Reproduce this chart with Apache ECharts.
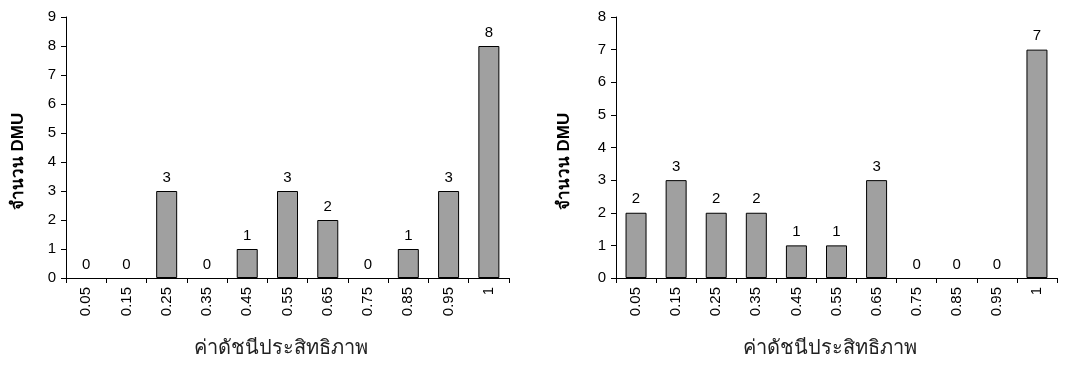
<!DOCTYPE html>
<html>
<head>
<meta charset="utf-8">
<script src="https://cdn.jsdelivr.net/npm/echarts@6/dist/echarts.min.js"></script>
<style>
html,body{margin:0;padding:0;background:#fff;}
#c{width:1072px;height:367px;}
</style>
</head>
<body>
<div id="c"></div>
<script>
const categories = ['0.05','0.15','0.25','0.35','0.45','0.55','0.65','0.75','0.85','0.95','1'];
const leftValues = [0,0,3,0,1,3,2,0,1,3,8];
const rightValues = [2,3,2,2,1,1,3,0,0,0,7];
const leftYMax = 9;
const rightYMax = 8;
const yTitle = 'จำนวน DMU';
const xTitle = 'ค่าดัชนีประสิทธิภาพ';

const font = '"Liberation Sans", Arial, sans-serif';
const chart = echarts.init(document.getElementById('c'));

function xAxis(gridIndex){
  return {
    type:'category', gridIndex, data:categories,
    axisLine:{lineStyle:{color:'#000',width:1}},
    axisTick:{show:true,interval:0,length:5,lineStyle:{color:'#000'}},
    axisLabel:{interval:0,rotate:90,margin:9,color:'#000',fontSize:15,fontFamily:font},
    name:xTitle, nameLocation:'middle', nameGap:60,
    nameTextStyle:{fontSize:20,color:'#222',fontFamily:font,padding:[0,14,0,0]}
  };
}
function yAxis(gridIndex,max,gap){
  return {
    type:'value', gridIndex, min:0, max:max, interval:1,
    splitLine:{show:false},
    axisLine:{show:true,lineStyle:{color:'#000',width:1}},
    axisTick:{show:true,length:5,lineStyle:{color:'#000'}},
    axisLabel:{color:'#000',fontSize:15,fontFamily:font,margin:10},
    name:yTitle, nameLocation:'middle', nameGap:gap, nameRotate:90,
    nameTextStyle:{fontSize:17,fontWeight:'bold',color:'#000',fontFamily:font,padding:[0,28,0,0]}
  };
}
function series(i,data){
  return {
    type:'bar', xAxisIndex:i, yAxisIndex:i, barWidth:21,
    data:data.map(v => v === 0 ? {value:v,itemStyle:{borderWidth:0}} : v),
    itemStyle:{color:'#a0a0a0',borderColor:'#000',borderWidth:1},
    label:{show:true,position:'top',distance:6,color:'#000',fontSize:15,fontFamily:font},
    silent:true
  };
}
chart.setOption({
  animation:false,
  backgroundColor:'#fff',
  grid:[
    {left:66,top:17,right:563,bottom:89},
    {left:616,top:17,right:15,bottom:89}
  ],
  xAxis:[xAxis(0),xAxis(1)],
  yAxis:[yAxis(0,leftYMax,39),yAxis(1,rightYMax,43)],
  series:[series(0,leftValues),series(1,rightValues)]
});
</script>
</body>
</html>
